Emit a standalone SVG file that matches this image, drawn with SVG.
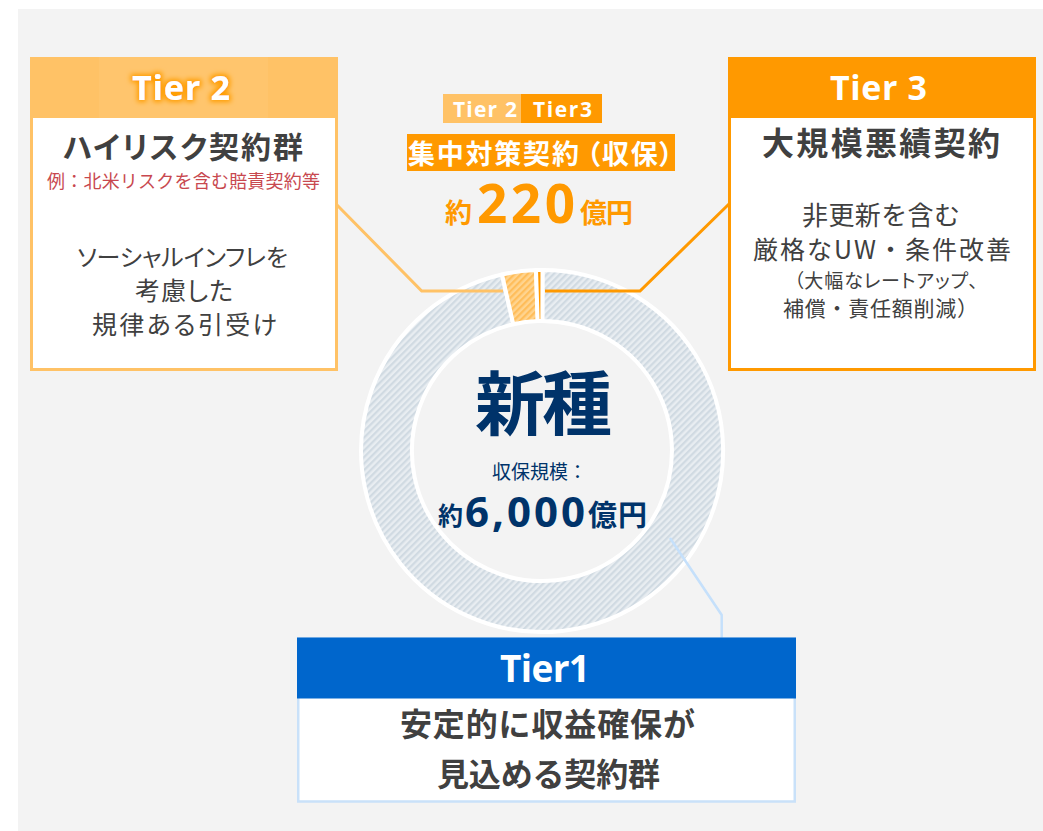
<svg xmlns="http://www.w3.org/2000/svg" width="1043" height="831" viewBox="0 0 1043 831">
<style>
.jp{font-family:"Noto Sans CJK JP","Noto Sans",sans-serif}
.lat{font-family:"Open Sans","Noto Sans CJK JP",sans-serif;font-weight:700}
.b{font-weight:700}
.palt{font-feature-settings:"palt"}
.dk{fill:#404040}
.nv{fill:#00336a}
.or{fill:#ff9900}
.wh{fill:#ffffff}
.seg{stroke:#ffffff;stroke-width:4;stroke-linejoin:round}
.conn{fill:none;stroke-linejoin:miter}
</style>
<defs>
<pattern id="hatchG" width="4.6" height="4.6" patternUnits="userSpaceOnUse" patternTransform="rotate(-45)">
<rect width="4.6" height="4.6" fill="#e8edf1"/><rect width="4.6" height="2.2" fill="#d0dae2"/>
</pattern>
<pattern id="hatchO" width="4.6" height="4.6" patternUnits="userSpaceOnUse" patternTransform="rotate(-45)">
<rect width="4.6" height="4.6" fill="#ffd48f"/><rect width="4.6" height="2.2" fill="#ffbd5a"/>
</pattern>
<filter id="glow" x="-20%" y="-50%" width="140%" height="200%">
<feMorphology in="SourceAlpha" operator="dilate" radius="1.5" result="d"/>
<feGaussianBlur in="d" stdDeviation="2.5" result="b"/>
<feFlood flood-color="#ff9d00"/>
<feComposite in2="b" operator="in"/>
<feMerge><feMergeNode/><feMergeNode in="SourceGraphic"/></feMerge>
</filter>
</defs>
<rect x="18" y="9" width="1025" height="822" fill="#f3f3f3"/>

<g id="donut">
<path class="seg" fill="url(#hatchG)" d="M 542.51 270.0 A 181 181 0 1 1 502.0 274.5 L 513.27 324.2 A 130 130 0 1 0 542.36 321.0 Z"/>
<path class="seg" fill="url(#hatchO)" d="M 502.0 274.5 A 181 181 0 0 1 536.0 270.1 L 537.69 321.07 A 130 130 0 0 0 513.27 324.2 Z"/>
<path class="seg" fill="#ff9900" d="M 536.0 270.1 A 181 181 0 0 1 542.51 270.0 L 542.36 321.0 A 130 130 0 0 0 537.69 321.07 Z"/>
</g>

<g id="connectors">
<polyline class="conn" stroke="#ffc266" stroke-width="3" points="336,204 421.7,291 503,291"/>
<polyline class="conn" stroke="#ff9900" stroke-width="3" points="545,291 640,291 729,204"/>
<polyline class="conn" stroke="#c5e0fb" stroke-width="2.5" points="670,538 721.7,615 721.7,638"/>
</g>

<g id="center-label">
<text class="jp b nv" x="475" y="430" font-size="70" textLength="137">新種</text>
<text class="jp nv" x="492" y="479" font-size="19">収保規模：</text>
<text class="jp b nv" x="438" y="525" font-size="25">約</text>
<text class="lat nv" x="465" y="527" font-size="42" textLength="120">6,000</text>
<text class="jp b nv" x="588" y="526" font-size="29" textLength="59">億円</text>
</g>

<g id="focus-label">
<rect x="443" y="94" width="78" height="29" fill="#ffc266"/>
<rect x="521" y="94" width="81" height="29" fill="#ff9900"/>
<text class="lat wh" x="453" y="117" font-size="21" textLength="64">Tier 2</text>
<text class="lat wh" x="533" y="117" font-size="21" textLength="59">Tier3</text>
<rect x="407" y="134" width="268" height="37" fill="#ff9900"/>
<text class="jp b wh palt" x="408" y="164" font-size="27" textLength="265">集中対策契約<tspan dx="6">（収保）</tspan></text>
<text class="jp b or" x="445" y="223" font-size="27">約</text>
<text class="lat or" x="477" y="223" font-size="53" textLength="98">220</text>
<text class="jp b or" x="580" y="223" font-size="27" textLength="53">億円</text>
</g>

<g id="tier2">
<rect x="31.5" y="58.5" width="305" height="311" fill="#ffffff" stroke="#ffc266" stroke-width="3"/>
<rect x="30" y="57" width="308" height="61" fill="#ffc266"/>
<rect x="99" y="57" width="169" height="61" fill="#ffcf85" opacity="0.25"/>
<text class="lat wh" x="132" y="100" font-size="34" textLength="98" filter="url(#glow)">Tier 2</text>
<text class="jp b dk palt" x="63" y="158" font-size="30" textLength="240">ハイリスク契約群</text>
<text class="jp" x="47" y="188" font-size="18" fill="#c8484f" textLength="273">例：北米リスクを含む賠責契約等</text>
<text class="jp dk palt" x="77" y="266" font-size="24" textLength="211">ソーシャルインフレを</text>
<text class="jp dk palt" x="135" y="300" font-size="25" textLength="98">考慮した</text>
<text class="jp dk palt" x="92" y="334" font-size="25" textLength="185">規律ある引受け</text>
</g>

<g id="tier3">
<rect x="729.5" y="58.5" width="305" height="311" fill="#ffffff" stroke="#ff9900" stroke-width="3"/>
<rect x="728" y="57" width="308" height="61" fill="#ff9900"/>
<text class="lat wh" x="830" y="100" font-size="34" textLength="97">Tier 3</text>
<text class="jp b dk palt" x="762" y="155" font-size="32" textLength="238">大規模悪績契約</text>
<text class="jp dk" x="802" y="225" font-size="26" textLength="158">非更新を含む</text>
<text class="jp dk" x="753" y="259" font-size="25" textLength="258">厳格なUW・条件改善</text>
<text class="jp dk palt" x="794" y="288" font-size="19" textLength="184">（大幅なレートアップ、</text>
<text class="jp dk" x="783" y="316" font-size="21" textLength="195">補償・責任額削減）</text>
</g>

<g id="tier1">
<rect x="298.25" y="638.75" width="496.5" height="162.75" fill="#ffffff" stroke="#c9e1f9" stroke-width="2.5"/>
<rect x="297" y="637.5" width="499" height="61" fill="#0066cc"/>
<text class="lat wh" x="500" y="682" font-size="37" textLength="90">Tier1</text>
<text class="jp b dk" x="400" y="736" font-size="32" textLength="295">安定的に収益確保が</text>
<text class="jp b dk" x="437" y="786" font-size="32" textLength="223">見込める契約群</text>
</g>
</svg>
